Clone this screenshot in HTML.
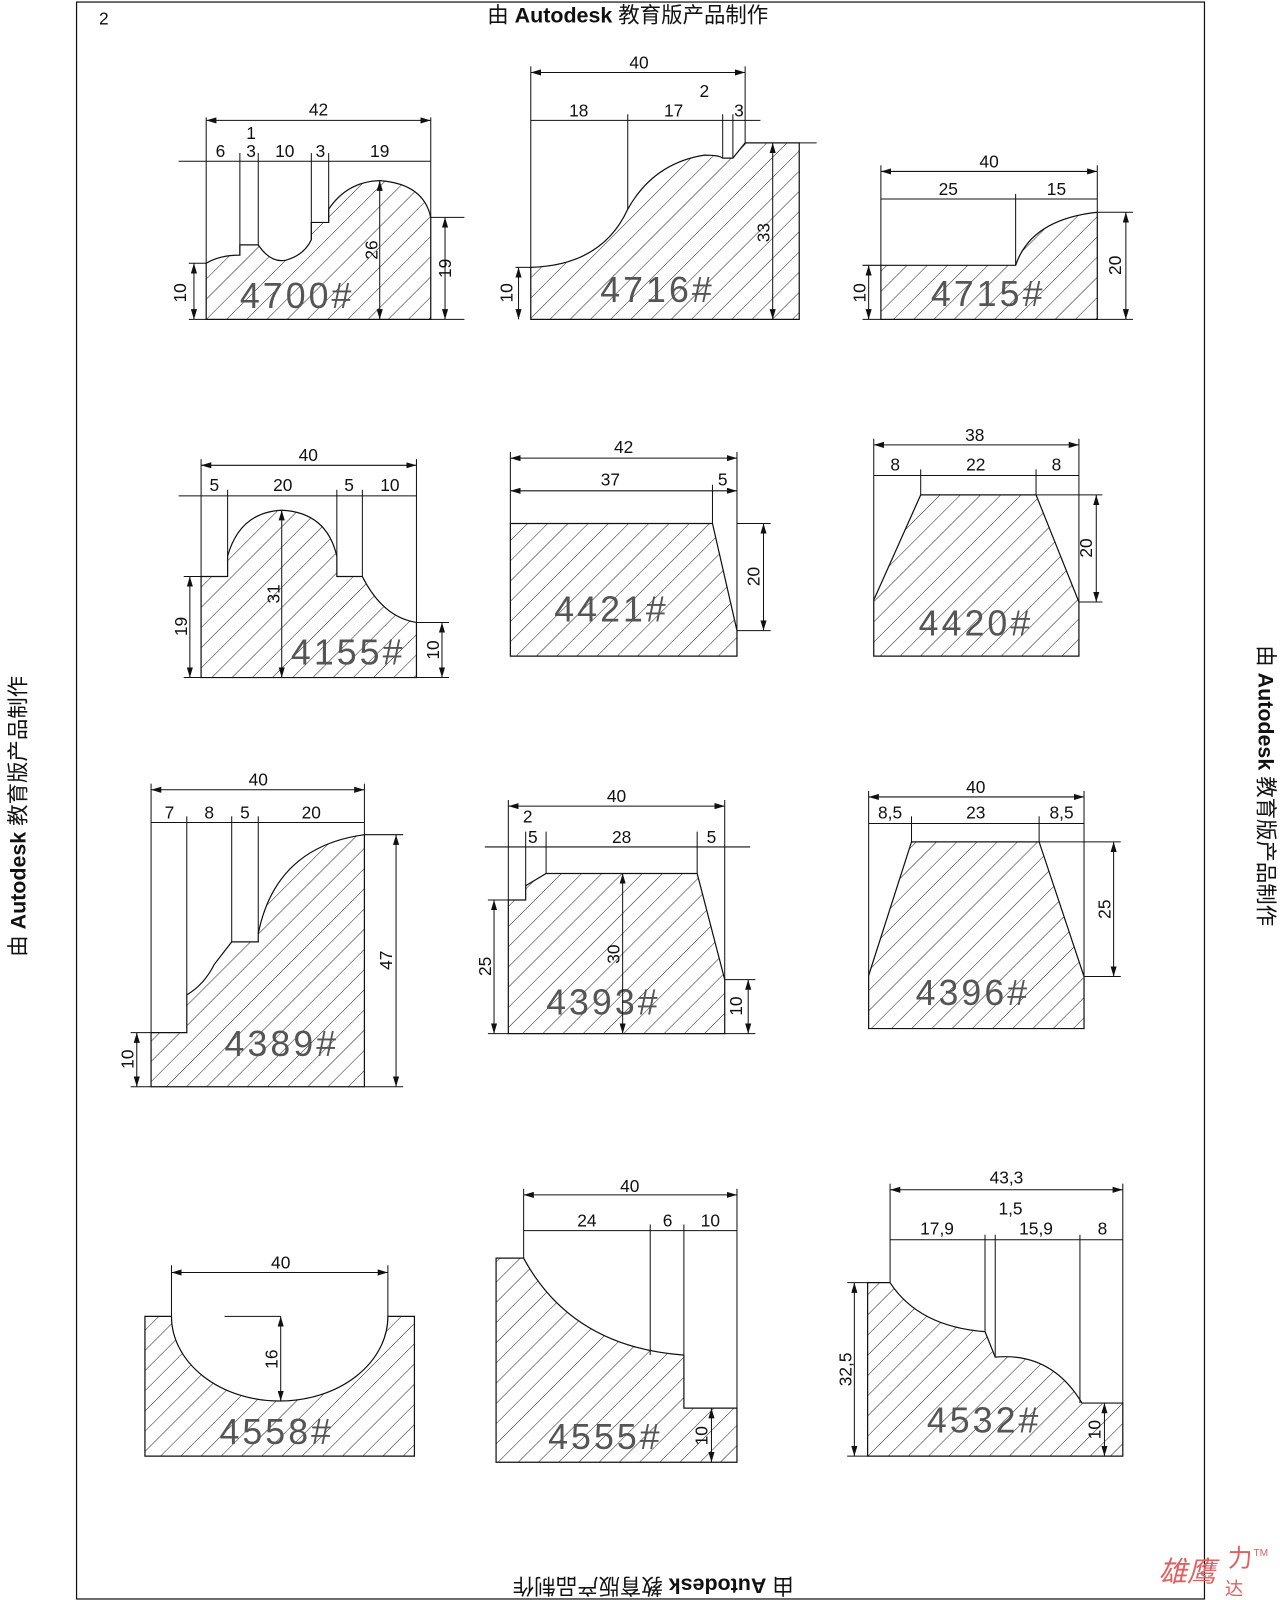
<!DOCTYPE html>
<html><head><meta charset="utf-8">
<style>
html,body{margin:0;padding:0;background:#fff;}
svg{display:block;}
.t{font-family:"Liberation Sans","Noto Sans CJK SC",sans-serif;}
.d{font-family:"Liberation Sans",sans-serif;font-size:17px;fill:#111;}
.b{font-family:"Liberation Sans",sans-serif;font-size:35px;fill:#555;letter-spacing:3px;}
</style></head><body>
<svg width="1280" height="1600" viewBox="0 0 1254 1568" preserveAspectRatio="none" xmlns="http://www.w3.org/2000/svg">
<defs>
<pattern id="h" patternUnits="userSpaceOnUse" width="14" height="14" patternTransform="rotate(45)">
<line x1="0" y1="0" x2="0" y2="14" stroke="#222" stroke-width="1"/>
</pattern>
<marker id="a" viewBox="0 0 10 6" refX="10" refY="3" markerWidth="10" markerHeight="6" orient="auto-start-reverse" markerUnits="userSpaceOnUse"><path d="M0,0 L10,3 L0,6 z" fill="#111"/></marker>
</defs>
<rect x="75" y="2" width="1105" height="1565" fill="none" stroke="#111" stroke-width="1.2"/>
<text x="97" y="24" class="d">2</text>
<text x="615" y="22" text-anchor="middle" class="t" font-size="21" fill="#111">由 <tspan font-weight="bold">Autodesk</tspan> 教育版产品制作</text>
<text transform="translate(25,800) rotate(-90)" text-anchor="middle" class="t" font-size="21" fill="#111">由 <tspan font-weight="bold">Autodesk</tspan> 教育版产品制作</text>
<text transform="translate(1233,770) rotate(90)" text-anchor="middle" class="t" font-size="21" fill="#111">由 <tspan font-weight="bold">Autodesk</tspan> 教育版产品制作</text>
<text transform="translate(640,1547) rotate(180)" text-anchor="middle" class="t" font-size="21" fill="#111">由 <tspan font-weight="bold">Autodesk</tspan> 教育版产品制作</text>
<text x="1135" y="1550" class="t" font-size="28" fill="#e06060" font-style="italic">雄鹰</text>
<text x="1203" y="1535" class="t" font-size="24" fill="#e06060">力</text>
<text x="1200" y="1563" class="t" font-size="18" fill="#e06060">达</text>
<text x="1228" y="1525" class="t" font-size="10" fill="#e06060">TM</text>

<g fill="url(#h)" stroke="#111" stroke-width="1.2">
<path d="M202,313 L202,258 Q215,250 235,250 L235,240 L253,240 Q265,258 280,255 Q298,250 305,235 L305,218 L322,218 L322,205 Q340,178 372,177 Q415,180 422,213 L422,313 Z"/>
<path d="M520,313 L520,262 Q590,260 615,205 Q640,160 690,152 Q705,152 708,155 L718,155 L730,140 L783,140 L783,313 Z"/>
<path d="M863,313 L863,260 L995,260 Q1010,215 1075,208 L1075,313 Z"/>
<path d="M197,664 L197,565 L223,565 L223,545 Q235,502 276,500 Q320,502 330,545 L330,565 L355,565 Q375,605 408,610 L408,664 Z"/>
<path d="M500,643 L500,513 L698,513 L722,618 L722,643 Z"/>
<path d="M856,643 L856,588 L902,485 L1015,485 L1057,590 L1057,643 Z"/>
<path d="M148,1065 L148,1012 L183,1012 L183,975 Q200,965 210,945 L227,923 L253,923 L253,915 Q270,830 357,818 L357,1065 Z"/>
<path d="M498,1013 L498,882 L515,882 L515,868 L535,856 L683,856 L710,960 L710,1013 Z"/>
<path d="M851,1008 L851,956 L893,825 L1018,825 L1062,957 L1062,1008 Z"/>
<path d="M142,1427 L142,1290 L168,1290 A106,83 0 0 0 380,1290 L406,1290 L406,1427 Z"/>
<path d="M486,1433 L486,1233 L513,1233 Q560,1320 670,1328 L670,1380 L722,1380 L722,1433 Z"/>
<path d="M850,1427 L850,1257 L872,1257 Q900,1300 965,1305 L975,1330 Q1030,1325 1060,1375 L1100,1375 L1100,1427 Z"/>
</g>

<g class="b">
<text x="235" y="302">4700#</text>
<text x="588" y="296">4716#</text>
<text x="912" y="300">4715#</text>
<text x="285" y="651">4155#</text>
<text x="543" y="609">4421#</text>
<text x="900" y="623">4420#</text>
<text x="220" y="1035">4389#</text>
<text x="535" y="994">4393#</text>
<text x="897" y="985">4396#</text>
<text x="215" y="1415">4558#</text>
<text x="537" y="1420">4555#</text>
<text x="908" y="1404">4532#</text>
</g>

<g stroke="#111" stroke-width="1" fill="none">
<line x1="202" y1="115" x2="202" y2="258"/><line x1="422" y1="115" x2="422" y2="213"/>
<line x1="202" y1="118" x2="422" y2="118" marker-start="url(#a)" marker-end="url(#a)"/>
<line x1="175" y1="158" x2="422" y2="158"/>
<line x1="235" y1="150" x2="235" y2="250"/><line x1="253" y1="150" x2="253" y2="240"/>
<line x1="305" y1="150" x2="305" y2="235"/><line x1="322" y1="150" x2="322" y2="218"/>
<line x1="372" y1="177" x2="372" y2="313" marker-start="url(#a)" marker-end="url(#a)"/>
<line x1="422" y1="213" x2="455" y2="213"/><line x1="422" y1="313" x2="455" y2="313"/>
<line x1="436" y1="213" x2="436" y2="313" marker-start="url(#a)" marker-end="url(#a)"/>
<line x1="185" y1="258" x2="202" y2="258"/><line x1="185" y1="313" x2="202" y2="313"/>
<line x1="190" y1="258" x2="190" y2="313" marker-start="url(#a)" marker-end="url(#a)"/>
<line x1="520" y1="65" x2="520" y2="262"/><line x1="730" y1="65" x2="730" y2="140"/>
<line x1="520" y1="71" x2="730" y2="71" marker-start="url(#a)" marker-end="url(#a)"/>
<line x1="520" y1="118" x2="745" y2="118"/>
<line x1="615" y1="112" x2="615" y2="205"/><line x1="708" y1="112" x2="708" y2="155"/><line x1="718" y1="112" x2="718" y2="155"/>
<line x1="783" y1="140" x2="800" y2="140"/>
<line x1="757" y1="140" x2="757" y2="313" marker-start="url(#a)" marker-end="url(#a)"/>
<line x1="505" y1="262" x2="520" y2="262"/>
<line x1="508" y1="262" x2="508" y2="313" marker-start="url(#a)" marker-end="url(#a)"/>
<line x1="863" y1="162" x2="863" y2="260"/><line x1="1075" y1="162" x2="1075" y2="208"/><line x1="995" y1="190" x2="995" y2="260"/>
<line x1="863" y1="168" x2="1075" y2="168" marker-start="url(#a)" marker-end="url(#a)"/>
<line x1="863" y1="195" x2="1075" y2="195"/>
<line x1="1075" y1="208" x2="1110" y2="208"/><line x1="1075" y1="313" x2="1110" y2="313"/>
<line x1="1103" y1="208" x2="1103" y2="313" marker-start="url(#a)" marker-end="url(#a)"/>
<line x1="845" y1="260" x2="863" y2="260"/><line x1="845" y1="313" x2="863" y2="313"/>
<line x1="851" y1="260" x2="851" y2="313" marker-start="url(#a)" marker-end="url(#a)"/>
<line x1="197" y1="450" x2="197" y2="565"/><line x1="408" y1="450" x2="408" y2="610"/>
<line x1="197" y1="456" x2="408" y2="456" marker-start="url(#a)" marker-end="url(#a)"/>
<line x1="175" y1="486" x2="408" y2="486"/>
<line x1="223" y1="480" x2="223" y2="545"/><line x1="330" y1="480" x2="330" y2="545"/><line x1="355" y1="480" x2="355" y2="565"/>
<line x1="276" y1="500" x2="276" y2="664" marker-start="url(#a)" marker-end="url(#a)"/>
<line x1="180" y1="565" x2="197" y2="565"/><line x1="180" y1="664" x2="197" y2="664"/>
<line x1="186" y1="565" x2="186" y2="664" marker-start="url(#a)" marker-end="url(#a)"/>
<line x1="408" y1="610" x2="440" y2="610"/><line x1="408" y1="664" x2="440" y2="664"/>
<line x1="433" y1="610" x2="433" y2="664" marker-start="url(#a)" marker-end="url(#a)"/>
<line x1="500" y1="443" x2="500" y2="513"/><line x1="722" y1="443" x2="722" y2="618"/><line x1="698" y1="475" x2="698" y2="513"/>
<line x1="500" y1="449" x2="722" y2="449" marker-start="url(#a)" marker-end="url(#a)"/>
<line x1="500" y1="481" x2="722" y2="481" marker-start="url(#a)" marker-end="url(#a)"/>
<line x1="722" y1="513" x2="755" y2="513"/><line x1="722" y1="618" x2="755" y2="618"/>
<line x1="748" y1="513" x2="748" y2="618" marker-start="url(#a)" marker-end="url(#a)"/>
<line x1="856" y1="430" x2="856" y2="588"/><line x1="1057" y1="430" x2="1057" y2="590"/>
<line x1="902" y1="460" x2="902" y2="485"/><line x1="1015" y1="460" x2="1015" y2="485"/>
<line x1="856" y1="436" x2="1057" y2="436" marker-start="url(#a)" marker-end="url(#a)"/>
<line x1="856" y1="466" x2="1057" y2="466"/>
<line x1="1015" y1="485" x2="1080" y2="485"/><line x1="1057" y1="590" x2="1080" y2="590"/>
<line x1="1074" y1="485" x2="1074" y2="590" marker-start="url(#a)" marker-end="url(#a)"/>
<line x1="148" y1="768" x2="148" y2="1012"/><line x1="357" y1="768" x2="357" y2="818"/>
<line x1="183" y1="800" x2="183" y2="975"/><line x1="227" y1="800" x2="227" y2="923"/><line x1="253" y1="800" x2="253" y2="915"/>
<line x1="148" y1="774" x2="357" y2="774" marker-start="url(#a)" marker-end="url(#a)"/>
<line x1="148" y1="806" x2="357" y2="806"/>
<line x1="357" y1="818" x2="395" y2="818"/><line x1="357" y1="1065" x2="395" y2="1065"/>
<line x1="388" y1="818" x2="388" y2="1065" marker-start="url(#a)" marker-end="url(#a)"/>
<line x1="128" y1="1012" x2="148" y2="1012"/><line x1="128" y1="1065" x2="148" y2="1065"/>
<line x1="134" y1="1012" x2="134" y2="1065" marker-start="url(#a)" marker-end="url(#a)"/>
<line x1="498" y1="784" x2="498" y2="882"/><line x1="710" y1="784" x2="710" y2="960"/>
<line x1="498" y1="790" x2="710" y2="790" marker-start="url(#a)" marker-end="url(#a)"/>
<line x1="475" y1="830" x2="735" y2="830"/>
<line x1="515" y1="815" x2="515" y2="868"/><line x1="535" y1="815" x2="535" y2="856"/><line x1="683" y1="815" x2="683" y2="856"/>
<line x1="610" y1="856" x2="610" y2="1013" marker-start="url(#a)" marker-end="url(#a)"/>
<line x1="478" y1="882" x2="498" y2="882"/><line x1="478" y1="1013" x2="498" y2="1013"/>
<line x1="484" y1="882" x2="484" y2="1013" marker-start="url(#a)" marker-end="url(#a)"/>
<line x1="710" y1="960" x2="740" y2="960"/><line x1="710" y1="1013" x2="740" y2="1013"/>
<line x1="733" y1="960" x2="733" y2="1013" marker-start="url(#a)" marker-end="url(#a)"/>
<line x1="851" y1="775" x2="851" y2="956"/><line x1="1062" y1="775" x2="1062" y2="957"/>
<line x1="893" y1="800" x2="893" y2="825"/><line x1="1018" y1="800" x2="1018" y2="825"/>
<line x1="851" y1="781" x2="1062" y2="781" marker-start="url(#a)" marker-end="url(#a)"/>
<line x1="851" y1="807" x2="1062" y2="807"/>
<line x1="1018" y1="825" x2="1098" y2="825"/><line x1="1062" y1="957" x2="1098" y2="957"/>
<line x1="1091" y1="825" x2="1091" y2="957" marker-start="url(#a)" marker-end="url(#a)"/>
<line x1="168" y1="1240" x2="168" y2="1290"/><line x1="380" y1="1240" x2="380" y2="1290"/>
<line x1="168" y1="1247" x2="380" y2="1247" marker-start="url(#a)" marker-end="url(#a)"/>
<line x1="220" y1="1290" x2="275" y2="1290"/>
<line x1="275" y1="1290" x2="275" y2="1373" marker-start="url(#a)" marker-end="url(#a)"/>
<line x1="513" y1="1165" x2="513" y2="1233"/><line x1="722" y1="1165" x2="722" y2="1380"/>
<line x1="637" y1="1200" x2="637" y2="1328"/><line x1="670" y1="1200" x2="670" y2="1328"/>
<line x1="513" y1="1171" x2="722" y2="1171" marker-start="url(#a)" marker-end="url(#a)"/>
<line x1="513" y1="1206" x2="722" y2="1206"/>
<line x1="697" y1="1380" x2="697" y2="1433" marker-start="url(#a)" marker-end="url(#a)"/>
<line x1="872" y1="1160" x2="872" y2="1257"/><line x1="1100" y1="1160" x2="1100" y2="1375"/>
<line x1="965" y1="1210" x2="965" y2="1305"/><line x1="975" y1="1210" x2="975" y2="1330"/><line x1="1058" y1="1210" x2="1058" y2="1375"/>
<line x1="872" y1="1166" x2="1100" y2="1166" marker-start="url(#a)" marker-end="url(#a)"/>
<line x1="872" y1="1215" x2="1100" y2="1215"/>
<line x1="830" y1="1257" x2="850" y2="1257"/><line x1="830" y1="1427" x2="850" y2="1427"/>
<line x1="837" y1="1257" x2="837" y2="1427" marker-start="url(#a)" marker-end="url(#a)"/>
<line x1="1082" y1="1375" x2="1082" y2="1427" marker-start="url(#a)" marker-end="url(#a)"/>
</g>

<g class="d" text-anchor="middle">
<text x="312" y="113">42</text>
<text x="216" y="154">6</text><text x="246" y="136">1</text><text x="246" y="154">3</text><text x="279" y="154">10</text><text x="314" y="154">3</text><text x="372" y="154">19</text>
<text transform="translate(370,245) rotate(-90)">26</text>
<text transform="translate(442,263) rotate(-90)">19</text>
<text transform="translate(182,287) rotate(-90)">10</text>
<text x="626" y="67">40</text><text x="567" y="114">18</text><text x="660" y="114">17</text><text x="690" y="95">2</text><text x="724" y="114">3</text>
<text transform="translate(754,228) rotate(-90)">33</text>
<text transform="translate(502,287) rotate(-90)">10</text>
<text x="969" y="164">40</text><text x="929" y="191">25</text><text x="1035" y="191">15</text>
<text transform="translate(1098,260) rotate(-90)">20</text>
<text transform="translate(848,287) rotate(-90)">10</text>
<text x="302" y="452">40</text><text x="210" y="481">5</text><text x="277" y="481">20</text><text x="342" y="481">5</text><text x="382" y="481">10</text>
<text transform="translate(274,582) rotate(-90)">31</text>
<text transform="translate(183,614) rotate(-90)">19</text>
<text transform="translate(430,637) rotate(-90)">10</text>
<text x="611" y="444">42</text><text x="598" y="476">37</text><text x="708" y="476">5</text>
<text transform="translate(744,565) rotate(-90)">20</text>
<text x="955" y="432">38</text><text x="877" y="461">8</text><text x="956" y="461">22</text><text x="1035" y="461">8</text>
<text transform="translate(1070,537) rotate(-90)">20</text>
<text x="253" y="770">40</text><text x="166" y="802">7</text><text x="205" y="802">8</text><text x="240" y="802">5</text><text x="305" y="802">20</text>
<text transform="translate(384,941) rotate(-90)">47</text>
<text transform="translate(131,1038) rotate(-90)">10</text>
<text x="604" y="786">40</text><text x="517" y="806">2</text><text x="522" y="826">5</text><text x="609" y="826">28</text><text x="697" y="826">5</text>
<text transform="translate(607,935) rotate(-90)">30</text>
<text transform="translate(481,947) rotate(-90)">25</text>
<text transform="translate(727,986) rotate(-90)">10</text>
<text x="956" y="777">40</text><text x="872" y="802">8,5</text><text x="956" y="802">23</text><text x="1040" y="802">8,5</text>
<text transform="translate(1088,891) rotate(-90)">25</text>
<text x="275" y="1243">40</text>
<text transform="translate(272,1332) rotate(-90)">16</text>
<text x="617" y="1168">40</text><text x="575" y="1202">24</text><text x="654" y="1202">6</text><text x="696" y="1202">10</text>
<text transform="translate(693,1407) rotate(-90)">10</text>
<text x="986" y="1160">43,3</text><text x="990" y="1190">1,5</text><text x="918" y="1210">17,9</text><text x="1015" y="1210">15,9</text><text x="1080" y="1210">8</text>
<text transform="translate(834,1342) rotate(-90)">32,5</text>
<text transform="translate(1078,1401) rotate(-90)">10</text>
</g>
</svg>
</body></html>
